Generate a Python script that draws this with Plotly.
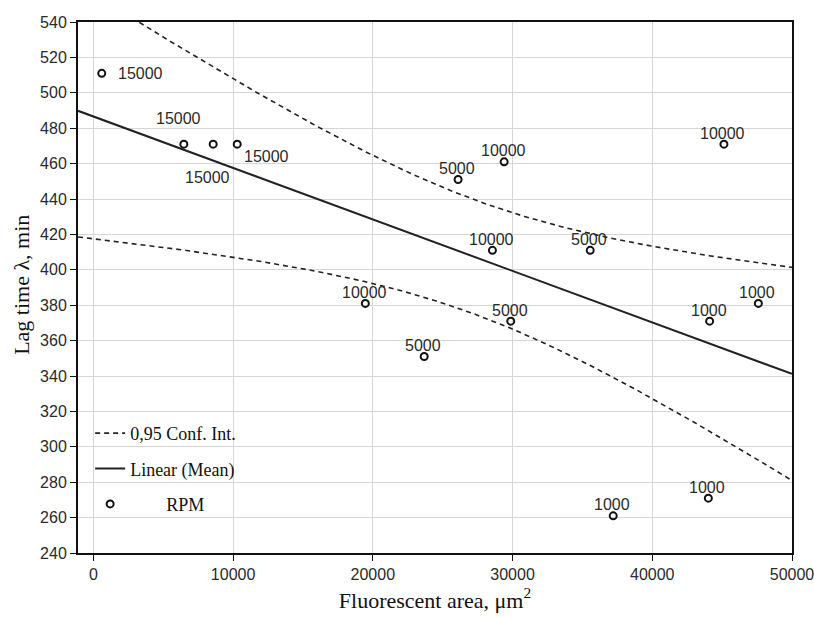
import numpy as np
import plotly.graph_objects as go

# Data
area = [600, 6475, 8575, 10294, 26103, 29398, 28560, 35559,
        19463, 29871, 23676, 45129, 47593, 44105, 44012, 37204]
lag = [511, 471, 471, 471, 451, 461, 411, 411,
       381, 371, 351, 471, 381, 371, 271, 261]
rpm = ["15000", "15000", "15000", "15000", "5000", "10000", "10000", "5000",
       "10000", "5000", "5000", "10000", "1000", "1000", "1000", "1000"]
x_ticks = [0, 10000, 20000, 30000, 40000, 50000]
y_ticks = list(range(240, 541, 20))
T_975_DF14 = 2.1448  # Student t quantile, 0.975, 14 d.f.

# label offsets (pixels) relative to each point
lab_dx = [39, -5, -6, 29, -1, -1, -1, -1, -1, -1, -1, -1, -1, -1, -1, -1]
lab_dy = [0, 26, -33, -12, 11, 11, 11, 11, 11, 11, 11, 11, 11, 11, 11, 11]

# Linear regression + 95% confidence band of the mean
x = np.array(area, float)
y = np.array(lag, float)
n = len(x)
b, a = np.polyfit(x, y, 1)
resid = y - (a + b * x)
s = np.sqrt((resid ** 2).sum() / (n - 2))
sxx = ((x - x.mean()) ** 2).sum()
xg = np.linspace(-1100, 50000, 300)
yg = a + b * xg
half = T_975_DF14 * s * np.sqrt(1.0 / n + (xg - x.mean()) ** 2 / sxx)

SANS = "Liberation Sans, Arial, sans-serif"
SERIF = "Liberation Serif, Times New Roman, serif"

fig = go.Figure()
fig.add_trace(go.Scatter(x=xg, y=yg + half, mode="lines", name="0,95 Conf. Int.",
                         legendgroup="ci",
                         line=dict(color="#222", width=1.6, dash="5px,4px")))
fig.add_trace(go.Scatter(x=xg, y=yg - half, mode="lines", showlegend=False,
                         legendgroup="ci",
                         line=dict(color="#222", width=1.6, dash="5px,4px")))
fig.add_trace(go.Scatter(x=xg, y=yg, mode="lines", name="Linear (Mean)",
                         legendgroup="mean", line=dict(color="#222", width=2)))
fig.add_trace(go.Scatter(x=area, y=lag, mode="markers",
                         name="\u00a0\u00a0\u00a0\u00a0\u00a0\u00a0\u00a0\u00a0RPM",
                         legendgroup="rpm", cliponaxis=False,
                         marker=dict(symbol="circle-open", size=7, color="#111",
                                     line=dict(width=2, color="#111"))))

for xi, yi, t, dx, dy in zip(area, lag, rpm, lab_dx, lab_dy):
    fig.add_annotation(x=xi, y=yi, text=t, showarrow=False, xshift=dx, yshift=dy,
                       font=dict(family=SANS, size=16, color="#2a2a2a"))

# y-axis title placed as a rotated annotation
fig.add_annotation(xref="paper", yref="paper", x=-0.0784, y=0.505,
                   text="Lag time λ, min", textangle=-90, showarrow=False,
                   xanchor="center", yanchor="middle",
                   font=dict(family=SERIF, size=22, color="#111"))

axis_font = dict(family=SANS, size=16, color="#2a2a2a")
fig.update_layout(
    width=814, height=617,
    margin=dict(l=78, r=22, t=22, b=64, autoexpand=False),
    plot_bgcolor="white", paper_bgcolor="white",
    showlegend=True,
    legend=dict(x=0.017, y=0.26, xanchor="left", yanchor="top",
                bgcolor="rgba(0,0,0,0)", traceorder="grouped", tracegroupgap=9,
                font=dict(family=SERIF, size=18, color="#111")),
    xaxis=dict(range=[-1100, 50000], tickvals=x_ticks, tickformat="d",
               ticklabeloverflow="allow",
               showgrid=True, gridcolor="#d6d6d6", gridwidth=1.3, zeroline=False,
               showline=True, linecolor="#111", linewidth=2, mirror=True,
               ticks="outside", ticklen=6, tickcolor="#111", tickfont=axis_font,
               title=dict(text="Fluorescent area, μm<sup>2</sup>", standoff=10,
                          font=dict(family=SERIF, size=22, color="#111"))),
    yaxis=dict(range=[240, 540], tickvals=y_ticks,
               showgrid=True, gridcolor="#d6d6d6", gridwidth=1.3, zeroline=False,
               showline=True, linecolor="#111", linewidth=2, mirror=True,
               ticks="outside", ticklen=6, tickcolor="#111", tickfont=axis_font),
    xaxis2=dict(overlaying="x", matches="x", side="top", range=[-1100, 50000],
                tickvals=x_ticks, ticks="inside", ticklen=5, tickcolor="#111",
                showticklabels=False, showgrid=False, zeroline=False),
    yaxis2=dict(overlaying="y", matches="y", side="right", range=[240, 540],
                tickvals=y_ticks, ticks="inside", ticklen=5, tickcolor="#111",
                showticklabels=False, showgrid=False, zeroline=False),
)

fig.write_html("out.html",
               config={"displayModeBar": False},
               post_script="document.body.style.margin='0';"
                           "document.body.style.overflow='hidden';")
